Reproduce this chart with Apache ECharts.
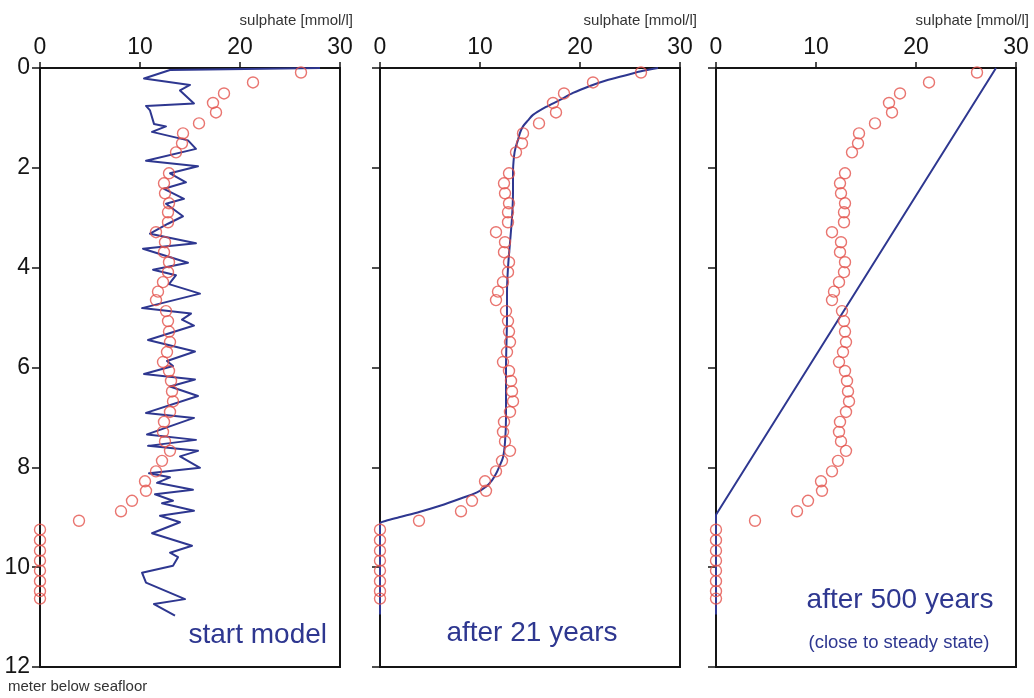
<!DOCTYPE html>
<html>
<head>
<meta charset="utf-8">
<title>Sulphate profiles</title>
<script src="https://cdn.jsdelivr.net/npm/echarts@6/dist/echarts.min.js"></script>
<style>
  html, body { margin: 0; padding: 0; background: #ffffff; }
  #chart { width: 1034px; height: 698px; }
</style>
</head>
<body>
<div id="chart"></div>
<script>
// Axis ticks
const sulphateTicks = [0, 10, 20, 30];
const depthTicks = [0, 2, 4, 6, 8, 10, 12];

// Measured pore-water sulphate (mmol/l) against depth (m below seafloor)
const obsDepth = [0.09, 0.29, 0.51, 0.70, 0.89, 1.11, 1.31, 1.51, 1.69, 2.11, 2.31, 2.51, 2.71, 2.89,
  3.09, 3.29, 3.49, 3.69, 3.89, 4.09, 4.29, 4.48, 4.65, 4.87, 5.07, 5.28, 5.49, 5.69, 5.89, 6.07,
  6.27, 6.48, 6.68, 6.89, 7.09, 7.29, 7.48, 7.67, 7.87, 8.08, 8.28, 8.47, 8.67, 8.88, 9.07, 9.25,
  9.46, 9.67, 9.87, 10.07, 10.28, 10.48, 10.63];
const obsSulphate = [26.1, 21.3, 18.4, 17.3, 17.6, 15.9, 14.3, 14.2, 13.6, 12.9, 12.4, 12.5, 12.9, 12.8,
  12.8, 11.6, 12.5, 12.4, 12.9, 12.8, 12.3, 11.8, 11.6, 12.6, 12.8, 12.9, 13.0, 12.7, 12.3, 12.9,
  13.1, 13.2, 13.3, 13.0, 12.4, 12.3, 12.5, 13.0, 12.2, 11.6, 10.5, 10.6, 9.2, 8.1, 3.9, 0,
  0, 0, 0, 0, 0, 0, 0];

// Model: initial profile
const startDepth = [0.00, 0.04, 0.21, 0.34, 0.45, 0.71, 0.76, 0.85, 1.12, 1.17, 1.28, 1.45, 1.62, 1.86,
  1.97, 2.11, 2.29, 2.42, 2.62, 2.72, 2.97, 3.12, 3.32, 3.51, 3.62, 3.90, 4.04, 4.15, 4.33, 4.52,
  4.81, 4.92, 5.04, 5.16, 5.45, 5.68, 5.87, 5.97, 6.13, 6.24, 6.38, 6.57, 6.91, 7.01, 7.34, 7.45,
  7.57, 7.67, 7.78, 8.01, 8.12, 8.20, 8.31, 8.45, 8.54, 8.67, 8.72, 8.87, 8.97, 9.10, 9.32, 9.57,
  9.71, 9.80, 9.97, 10.11, 10.31, 10.64, 10.74, 10.97];
const startSulphate = [28.0, 13.0, 10.4, 15.0, 14.0, 15.4, 10.6, 11.0, 11.4, 12.6, 11.2, 14.8, 15.6, 10.6,
  15.8, 13.0, 14.6, 12.4, 14.4, 12.6, 14.3, 12.8, 11.0, 15.6, 10.3, 14.8, 11.3, 13.6, 12.9, 16.0,
  10.2, 15.1, 14.2, 15.4, 10.8, 15.5, 12.7, 13.3, 10.4, 15.5, 13.0, 15.8, 10.6, 15.4, 10.7, 15.6,
  10.8, 15.8, 14.0, 16.0, 10.9, 13.0, 11.7, 15.3, 11.5, 13.3, 12.2, 15.4, 12.0, 14.0, 11.2, 15.2,
  13.0, 13.8, 13.3, 10.2, 10.6, 14.5, 11.4, 13.5];

// Model: after 21 years
const y21Depth = [0.00, 0.07, 0.14, 0.25, 0.36, 0.50, 0.64, 0.78, 0.94, 1.05, 1.17, 1.30, 1.44, 1.60,
  1.77, 2.10, 2.50, 3.00, 3.50, 4.00, 4.50, 5.00, 6.00, 7.00, 7.50, 7.80, 8.00, 8.13, 8.26, 8.39,
  8.50, 8.63, 8.77, 8.89, 9.00, 9.07, 9.13, 10.95];
const y21Sulphate = [27.8, 26.0, 24.7, 22.6, 21.0, 19.3, 18.0, 16.6, 15.3, 14.8, 14.3, 14.0, 13.8, 13.55,
  13.4, 13.3, 13.3, 13.2, 13.0, 12.8, 12.7, 12.7, 12.6, 12.6, 12.5, 12.3, 11.9, 11.6, 11.2, 10.6,
  9.7, 8.0, 6.0, 4.0, 1.9, 0.6, 0, 0];

// Model: after 500 years (close to steady state)
const y500Depth = [0.00, 8.95, 10.95];
const y500Sulphate = [28.0, 0, 0];

const panelTitles = ['start model', 'after 21 years', 'after 500 years'];
const panelSubtitle = '(close to steady state)';
const xAxisName = 'sulphate [mmol/l]';
const yAxisName = 'meter below seafloor';

const BLUE = '#2e3790';
const RED = '#e4524c';
const INK = '#151515';
const FONT = '"Liberation Sans", Arial, Helvetica, sans-serif';

function pairs(xs, ys) { return xs.map((x, i) => [x, ys[i]]); }

const grids = [
  { left: 40, top: 68, width: 300, height: 599 },
  { left: 380, top: 68, width: 300, height: 599 },
  { left: 716, top: 68, width: 300, height: 599 }
].map(g => Object.assign(g, { show: true, borderColor: INK, borderWidth: 2, backgroundColor: 'transparent' }));

const xAxes = grids.map((g, i) => ({
  type: 'value', gridIndex: i, position: 'top',
  min: sulphateTicks[0], max: sulphateTicks[sulphateTicks.length - 1],
  interval: sulphateTicks[1] - sulphateTicks[0],
  axisLine: { show: true, lineStyle: { color: INK, width: 2 } },
  axisTick: { show: true, inside: false, length: 6, lineStyle: { color: INK, width: 1.5 } },
  axisLabel: { show: true, fontSize: 23, color: INK, fontFamily: FONT, margin: 9 },
  splitLine: { show: false }
}));

const yAxes = grids.map((g, i) => ({
  type: 'value', gridIndex: i, inverse: true,
  min: depthTicks[0], max: depthTicks[depthTicks.length - 1],
  interval: depthTicks[1] - depthTicks[0],
  axisLine: { show: true, lineStyle: { color: INK, width: 2 } },
  axisTick: { show: true, inside: false, length: 8, lineStyle: { color: INK, width: 1.5 } },
  axisLabel: { show: i === 0, fontSize: 23, color: INK, fontFamily: FONT, margin: 10 },
  splitLine: { show: false }
}));

const obs = pairs(obsSulphate, obsDepth);
const models = [pairs(startSulphate, startDepth), pairs(y21Sulphate, y21Depth), pairs(y500Sulphate, y500Depth)];

const series = [];
models.forEach((m, i) => {
  series.push({
    type: 'line', xAxisIndex: i, yAxisIndex: i, data: m,
    showSymbol: false, symbol: 'none', smooth: i === 1 ? 0.3 : false,
    lineStyle: { color: BLUE, width: 2, join: 'round' }, z: 3, clip: false, silent: true
  });
  series.push({
    type: 'scatter', xAxisIndex: i, yAxisIndex: i, data: obs,
    symbol: 'circle', symbolSize: 11,
    itemStyle: { color: 'rgba(255,255,255,0)', borderColor: RED, borderWidth: 1.4 },
    z: 4, clip: false, silent: true
  });
});

function text(str, x, y, size, color, align, vAlign) {
  return {
    type: 'text', x: x, y: y, z: 10, silent: true,
    style: { text: str, fill: color, font: size + 'px ' + FONT, textAlign: align, textVerticalAlign: vAlign || 'middle' }
  };
}

const graphics = [
  text(xAxisName, 353, 21, 15, '#333333', 'right'),
  text(xAxisName, 697, 21, 15, '#333333', 'right'),
  text(xAxisName, 1029, 21, 15, '#333333', 'right'),
  text(yAxisName, 8, 687, 15, '#333333', 'left'),
  text(panelTitles[0], 327, 635, 28, BLUE, 'right'),
  text(panelTitles[1], 532, 633, 28, BLUE, 'center'),
  text(panelTitles[2], 900, 600, 28, BLUE, 'center'),
  text(panelSubtitle, 899, 643, 18.5, BLUE, 'center')
];

const chart = echarts.init(document.getElementById('chart'), null, { renderer: 'canvas' });
chart.setOption({
  animation: false,
  backgroundColor: '#ffffff',
  textStyle: { fontFamily: FONT },
  grid: grids,
  xAxis: xAxes,
  yAxis: yAxes,
  series: series,
  graphic: graphics
});
</script>
</body>
</html>
